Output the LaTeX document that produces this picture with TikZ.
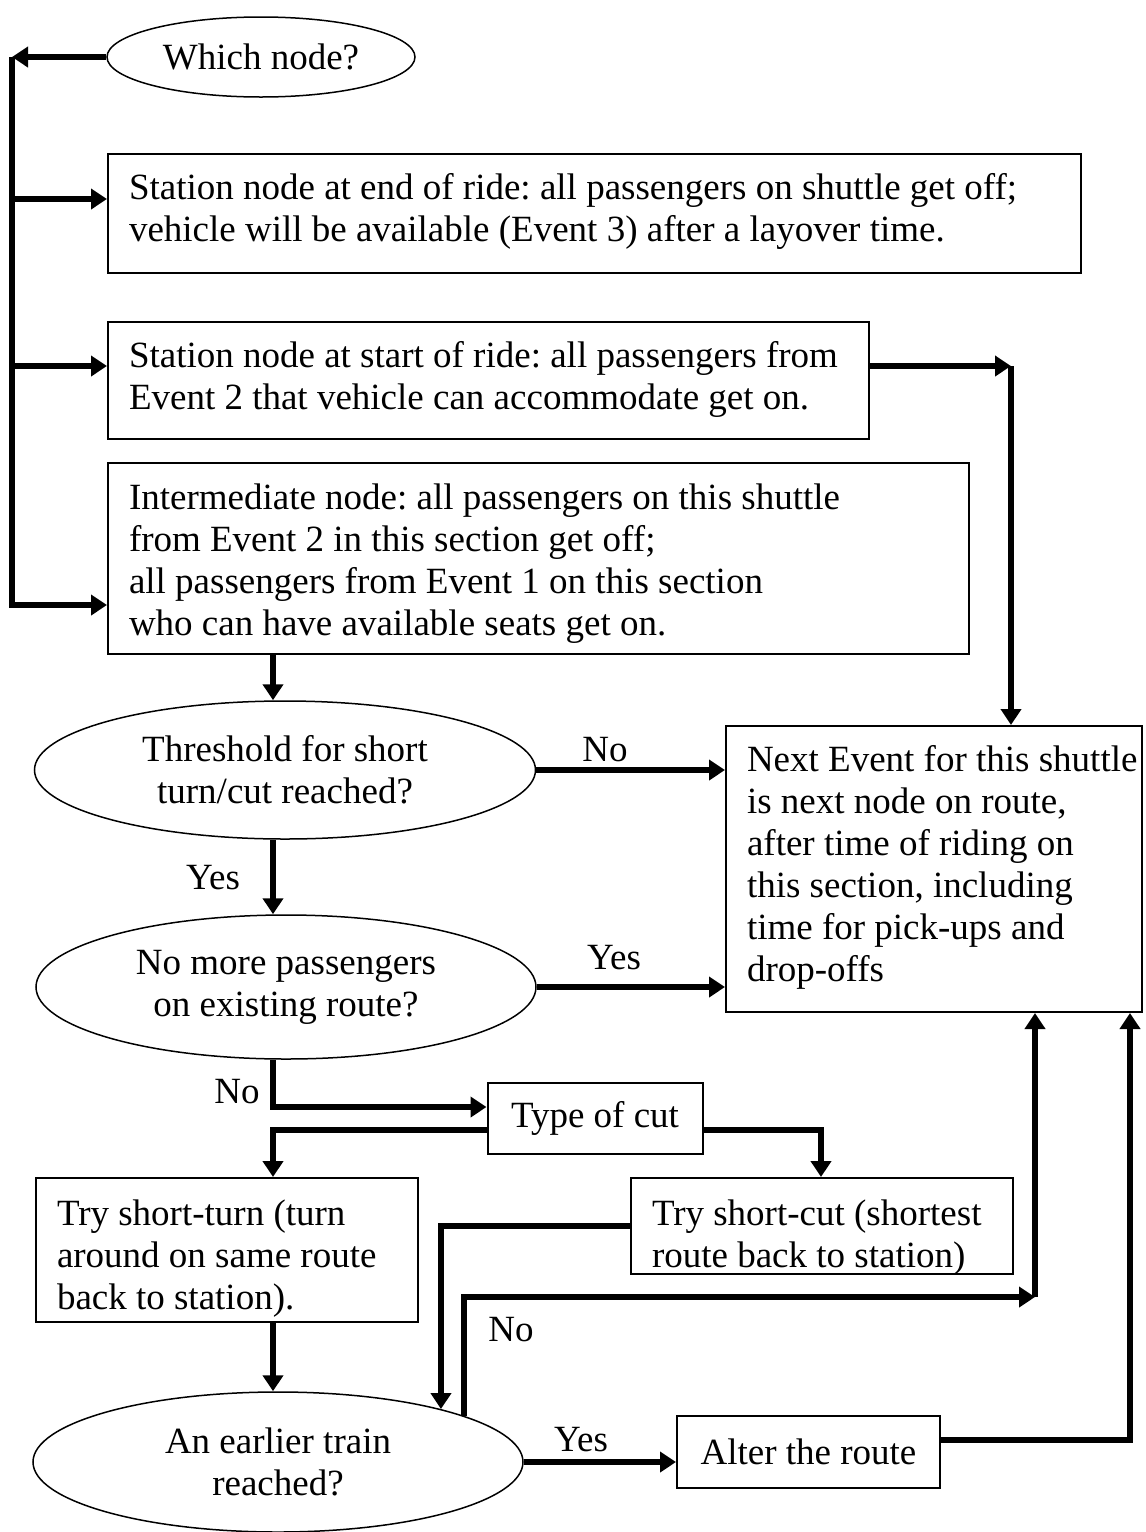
\documentclass[tikz,border=0pt]{standalone}
\usepackage{fontspec}
\setmainfont{Liberation Serif}
\usetikzlibrary{arrows.meta,shapes.geometric}
\newcommand{\bxc}[5]{\parbox[c][#2][t]{#1}{\vspace*{#4}\noindent\hspace*{#3}\begin{tabular}[t]{@{}l@{}}#5\end{tabular}}}
\frenchspacing
\begin{document}
\begin{tikzpicture}[x=0.5pt,y=-0.5pt,
 every node/.style={font=\fontsize{18.5}{21}\selectfont\frenchspacing},
 tbox/.style={draw,line width=1pt,inner sep=0pt,anchor=north west},
 cbox/.style={draw,line width=1pt,inner sep=0pt,align=center},
 oval/.style={draw,ellipse,line width=0.75pt,inner sep=0pt,align=center},
 thk/.style={line width=3pt},
 arr/.style={line width=3pt,-{Triangle[length=8pt,width=10pt]}},
 lbl/.style={inner sep=0pt}]
\useasboundingbox (0,0) rectangle (1146,1532);

\node[oval,minimum width=154pt,minimum height=40pt] (which) at (261,57) {Which node?};
\node[tbox] (b1) at (107,153) {\bxc{486.5pt}{59.5pt}{10.5pt}{8pt}{Station node at end of ride: all passengers on shuttle get off;\\vehicle will be available (Event 3) after a layover time.}};
\node[tbox] (b2) at (107,321) {\bxc{380.5pt}{58.5pt}{10.5pt}{8pt}{Station node at start of ride: all passengers from\\Event 2 that vehicle can accommodate get on.}};
\node[tbox] (b3) at (107,462) {\bxc{430.5pt}{95.5pt}{10.5pt}{8.5pt}{Intermediate node: all passengers on this shuttle\\from Event 2 in this section get off;\\all passengers from Event 1 on this section\\who can have available seats get on.}};
\node[oval,minimum width=250.5pt,minimum height=69pt] (e2) at (285,770) {Threshold for short\\turn/cut reached?};
\node[tbox] (next) at (725,725) {\bxc{208pt}{143pt}{10.5pt}{7.8pt}{Next Event for this shuttle\\is next node on route,\\after time of riding on\\this section, including\\time for pick-ups and\\drop-offs}};
\node[oval,minimum width=250pt,minimum height=72pt] (e3) at (286,987) {No more passengers\\on existing route?};
\node[cbox,minimum width=107.5pt,minimum height=35.5pt] (type) at (595,1118.5) {Type of cut};
\node[tbox] (st) at (35,1177) {\bxc{191pt}{72pt}{10.5pt}{8.8pt}{Try short-turn (turn\\around on same route\\back to station).}};
\node[tbox] (sc) at (630,1177) {\bxc{191pt}{48pt}{10.5pt}{8.8pt}{Try short-cut (shortest\\route back to station)}};
\node[oval,minimum width=245pt,minimum height=70pt] (e4) at (278,1462) {An earlier train\\reached?};
\node[cbox,minimum width=131.5pt,minimum height=36pt] (alter) at (808.5,1452) {Alter the route};

\coordinate (L) at (12,57);
\coordinate (y1) at (0,199);
\coordinate (y2) at (0,366);
\coordinate (y3) at (0,605);
\coordinate (R) at (1011,366);
\coordinate (xA) at (273,0);
\coordinate (y4) at (0,1107);
\coordinate (y5) at (0,1130);
\coordinate (xB) at (821,0);
\coordinate (y6) at (0,1226);
\coordinate (C) at (1035,1297);
\coordinate (D) at (1130,1440);

\draw[arr] (which.west) -- (L);
\draw[arr] (L) -- (L |- y3) -- (b3.west |- y3);
\draw[arr] (L |- y1) -- (b1.west |- y1);
\draw[arr] (L |- y2) -- (b2.west |- y2);
\draw[arr] (b2.east |- y2) -- (R);
\draw[arr] (R) -- (R |- next.north);
\draw[arr] (b3.south -| xA) -- (e2.north -| xA);
\draw[arr] (e2.east) -- (next.west |- e2.east);
\node[lbl] at (605,750) {No};
\draw[arr] (e2.south -| xA) -- (e3.north -| xA);
\node[lbl] at (213,878) {Yes};
\draw[arr] (e3.east) -- (next.west |- e3.east);
\node[lbl] at (614,958) {Yes};
\draw[arr] (e3.south -| xA) -- (xA |- y4) -- (type.west |- y4);
\node[lbl] at (237,1092) {No};
\draw[arr] (type.west |- y5) -- (xA |- y5) -- (st.north -| xA);
\draw[arr] (type.east |- y5) -- (xB |- y5) -- (sc.north -| xB);
\draw[arr] (sc.west |- y6) -| (e4.18);
\draw[arr] (st.south -| xA) -- (e4.north -| xA);
\draw[arr] (e4.14) |- (C);
\draw[arr] (C) -- (C |- next.south);
\node[lbl] at (511,1330) {No};
\draw[arr] (e4.east) -- (alter.west |- e4.east);
\node[lbl] at (581,1440) {Yes};
\draw[arr] (alter.east |- D) -- (D) -- (D |- next.south);
\end{tikzpicture}
\end{document}
